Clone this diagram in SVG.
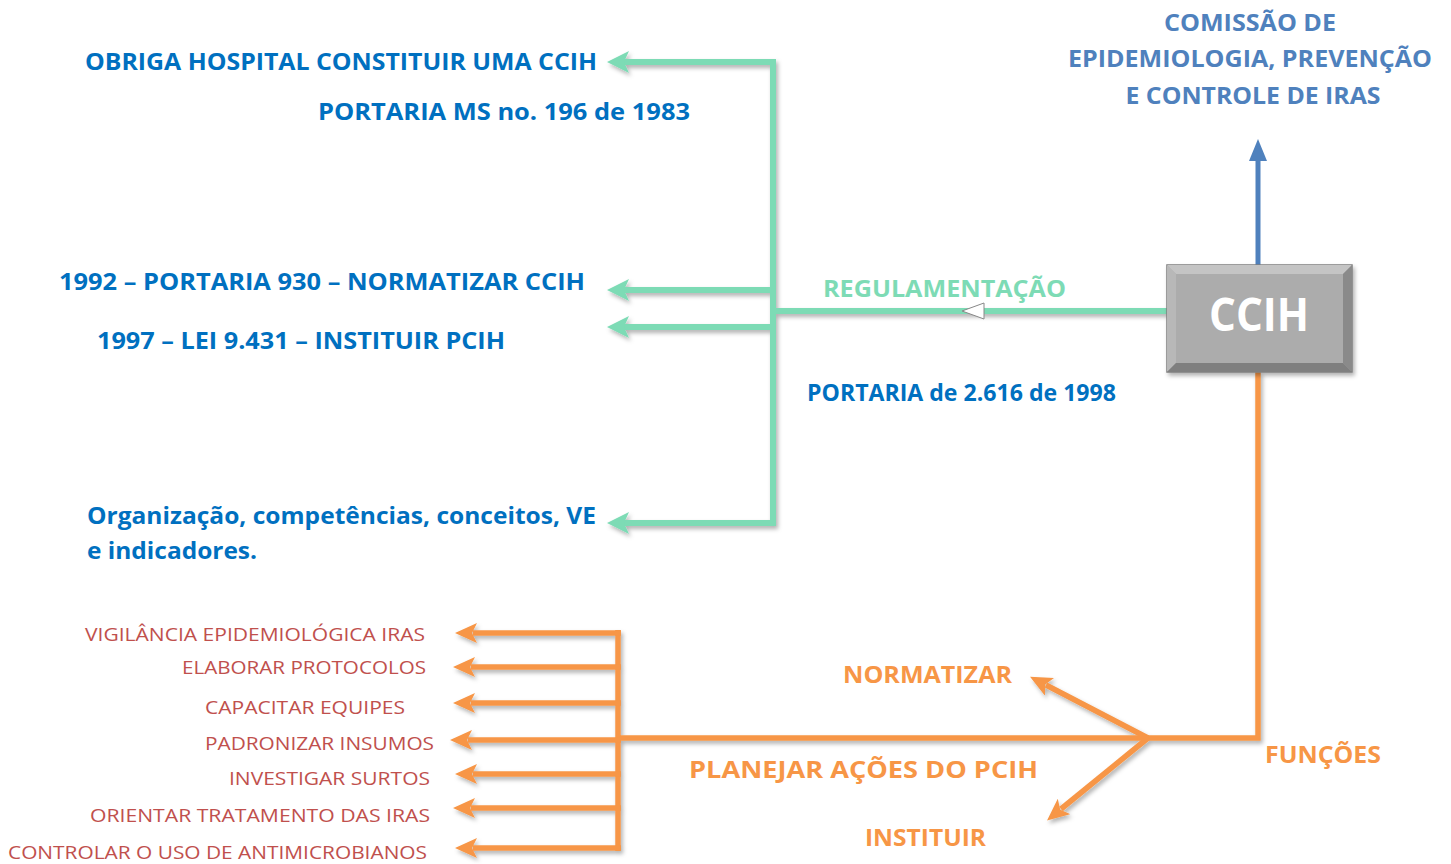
<svg xmlns="http://www.w3.org/2000/svg" width="1451" height="864" viewBox="0 0 1451 864">
<style>
text{font-family:"Open Sans","Liberation Sans",sans-serif}
.b{font-weight:bold;fill:#0070c0;font-size:23px}
.r{fill:#c0504d;font-size:19px}
.o{font-weight:bold;fill:#f79646;font-size:23px}
.g{stroke:#7ddbb5;stroke-width:6;fill:none}
.or{stroke:#f79646;stroke-width:5.5;fill:none}
</style>
<defs>
<filter id="sh" x="-10%" y="-10%" width="130%" height="130%">
<feDropShadow dx="2" dy="3" stdDeviation="2" flood-color="#000" flood-opacity="0.3"/>
</filter>
<linearGradient id="box" x1="0" y1="0" x2="0" y2="1">
<stop offset="0" stop-color="#b0b0b0"/><stop offset="1" stop-color="#a6a6a6"/>
</linearGradient>
<marker id="ao" markerUnits="userSpaceOnUse" viewBox="0 0 22 20" refX="4" refY="10" markerWidth="22" markerHeight="20" orient="auto">
<path d="M22,10 L0,0 L5,10 L0,20 Z" fill="#f79646"/>
</marker>
<marker id="ab" markerUnits="userSpaceOnUse" viewBox="0 0 22 18" refX="1" refY="9" markerWidth="22" markerHeight="18" orient="auto">
<path d="M22,9 L0,0 L0,18 Z" fill="#4f81bd"/>
</marker>
</defs>
<rect width="1451" height="864" fill="#fff"/>

<g id="connectors">
<g filter="url(#sh)" fill="#7ddbb5">
<path class="g" d="M1167,311 H773"/>
<path class="g" d="M773,59 V526"/>
<path class="g" d="M776,62 H624"/>
<path class="g" d="M773,290 H624"/>
<path class="g" d="M773,327 H624"/>
<path class="g" d="M776,523 H624"/>
<path d="M607,62 L629,51 L624,62 L629,73 Z"/>
<path d="M607,290 L629,279 L624,290 L629,301 Z"/>
<path d="M607,327 L629,316 L624,327 L629,338 Z"/>
<path d="M607,523 L629,512 L624,523 L629,534 Z"/>
</g>
<polygon points="962,311 984,303 984,319" fill="#fff" stroke="#888" stroke-width="1"/>
<path d="M1258,265 V160" stroke="#4f81bd" stroke-width="5" fill="none" marker-end="url(#ab)"/>
<g filter="url(#sh)">
<path class="or" d="M1258,372 V738 H618"/>
<path class="or" d="M618,630 V851"/>
<path class="or" d="M1148,738 L1046,685" marker-end="url(#ao)"/>
<path class="or" d="M1148,738 L1061,809" marker-end="url(#ao)"/>
<path class="or" d="M621,633 H473" marker-end="url(#ao)"/>
<path class="or" d="M621,667 H471" marker-end="url(#ao)"/>
<path class="or" d="M621,703 H471" marker-end="url(#ao)"/>
<path class="or" d="M621,740 H468" marker-end="url(#ao)"/>
<path class="or" d="M621,774 H473" marker-end="url(#ao)"/>
<path class="or" d="M621,808 H471" marker-end="url(#ao)"/>
<path class="or" d="M621,848 H473" marker-end="url(#ao)"/>
</g>
</g>

<g id="ccih">
<rect x="1167" y="265" width="185" height="107" fill="url(#box)" stroke="#7f7f7f" stroke-width="1.5" filter="url(#sh)"/>
<polygon points="1167,265 1352,265 1343,274 1176,274" fill="#c4c4c4"/>
<polygon points="1167,265 1176,274 1176,363 1167,372" fill="#b8b8b8"/>
<polygon points="1352,265 1352,372 1343,363 1343,274" fill="#8a8a8a"/>
<polygon points="1167,372 1352,372 1343,363 1176,363" fill="#7f7f7f"/>
<rect x="1176" y="274" width="167" height="89" fill="#acacac"/>
<text x="1259" y="331" text-anchor="middle" font-size="47" font-weight="bold" fill="#fff" textLength="100" lengthAdjust="spacingAndGlyphs">CCIH</text>
</g>

<g id="comissao">
<text font-weight="bold" font-size="23" fill="#4f81bd" text-anchor="middle">
<tspan x="1253" y="31" textLength="172" lengthAdjust="spacingAndGlyphs">COMISSÃO DE</tspan>
<tspan x="1253" y="67" textLength="364" lengthAdjust="spacingAndGlyphs">EPIDEMIOLOGIA, PREVENÇÃO</tspan>
<tspan x="1253" y="104" textLength="255" lengthAdjust="spacingAndGlyphs">E CONTROLE DE IRAS</tspan>
</text>
</g>

<g id="regulamentacao">
<text x="823" y="297" font-weight="bold" font-size="23" fill="#7ddbb5" textLength="243" lengthAdjust="spacingAndGlyphs">REGULAMENTAÇÃO</text>
</g>

<g id="obriga"><text class="b" x="85" y="70" textLength="512" lengthAdjust="spacingAndGlyphs">OBRIGA HOSPITAL CONSTITUIR UMA CCIH</text></g>
<g id="portaria1983"><text class="b" x="318" y="120" textLength="372" lengthAdjust="spacingAndGlyphs">PORTARIA MS no. 196 de 1983</text></g>
<g id="p1992"><text class="b" x="59" y="290" textLength="526" lengthAdjust="spacingAndGlyphs">1992 – PORTARIA 930 – NORMATIZAR CCIH</text></g>
<g id="p1997"><text class="b" x="97" y="349" textLength="408" lengthAdjust="spacingAndGlyphs">1997 – LEI 9.431 – INSTITUIR PCIH</text></g>
<g id="p1998"><text class="b" x="807" y="401" font-size="21" textLength="309" lengthAdjust="spacingAndGlyphs">PORTARIA de 2.616 de 1998</text></g>
<g id="organizacao">
<text class="b" x="87" y="524" textLength="509" lengthAdjust="spacingAndGlyphs">Organização, competências, conceitos, VE</text>
<text class="b" x="87" y="559" textLength="170" lengthAdjust="spacingAndGlyphs">e indicadores.</text>
</g>

<g id="normatizar"><text class="o" x="843" y="683" textLength="169" lengthAdjust="spacingAndGlyphs">NORMATIZAR</text></g>
<g id="funcoes"><text class="o" x="1265" y="763" textLength="116" lengthAdjust="spacingAndGlyphs">FUNÇÕES</text></g>
<g id="planejar"><text class="o" x="689" y="778" font-size="25" textLength="349" lengthAdjust="spacingAndGlyphs">PLANEJAR AÇÕES DO PCIH</text></g>
<g id="instituir"><text class="o" x="865" y="846" textLength="121" lengthAdjust="spacingAndGlyphs">INSTITUIR</text></g>

<g id="vigilancia"><text class="r" x="85" y="641" textLength="340" lengthAdjust="spacingAndGlyphs">VIGILÂNCIA EPIDEMIOLÓGICA IRAS</text></g>
<g id="elaborar"><text class="r" x="182" y="674" textLength="244" lengthAdjust="spacingAndGlyphs">ELABORAR PROTOCOLOS</text></g>
<g id="capacitar"><text class="r" x="205" y="714" textLength="200" lengthAdjust="spacingAndGlyphs">CAPACITAR EQUIPES</text></g>
<g id="padronizar"><text class="r" x="205" y="750" textLength="229" lengthAdjust="spacingAndGlyphs">PADRONIZAR INSUMOS</text></g>
<g id="investigar"><text class="r" x="229" y="785" textLength="201" lengthAdjust="spacingAndGlyphs">INVESTIGAR SURTOS</text></g>
<g id="orientar"><text class="r" x="90" y="822" textLength="340" lengthAdjust="spacingAndGlyphs">ORIENTAR TRATAMENTO DAS IRAS</text></g>
<g id="controlar"><text class="r" x="8" y="859" textLength="419" lengthAdjust="spacingAndGlyphs">CONTROLAR O USO DE ANTIMICROBIANOS</text></g>
</svg>
